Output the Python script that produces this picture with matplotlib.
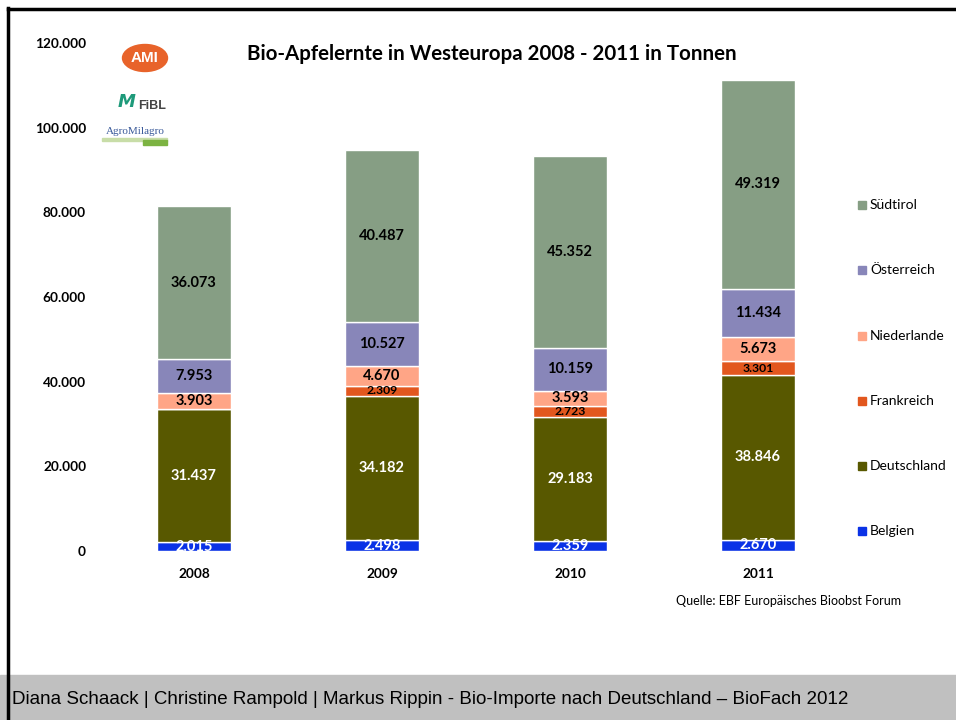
import matplotlib
matplotlib.use("Agg")
import matplotlib.pyplot as plt
import numpy as np
from matplotlib.patches import Rectangle, Ellipse

# data (tonnes)
years = ["2008", "2009", "2010", "2011"]
series = ["Belgien", "Deutschland", "Frankreich", "Niederlande", "Österreich", "Südtirol"]
belgien = [2015, 2498, 2359, 2670]
deutschland = [31437, 34182, 29183, 38846]
frankreich = [0, 2309, 2723, 3301]
niederlande = [3903, 4670, 3593, 5673]
oesterreich = [7953, 10527, 10159, 11434]
suedtirol = [36073, 40487, 45352, 49319]
values = [belgien, deutschland, frankreich, niederlande, oesterreich, suedtirol]

colors = ["#0A32E6", "#585800", "#E2571E", "#FFA586", "#8886B9", "#869E84"]
label_colors = ["white", "white", "black", "black", "black", "black"]
label_sizes = [10.5, 10.5, 8.8, 10.5, 10.5, 10.5]

yticks = [0, 20000, 40000, 60000, 80000, 100000, 120000]


def fmt(v):
    return "{:,}".format(v).replace(",", ".")


fig = plt.figure(figsize=(9.56, 7.2), dpi=100)
ax = fig.add_axes([100 / 956, 1 - 551 / 720, 752 / 956, 508 / 720])

x = np.arange(len(years))
bottom = np.zeros(len(years))
for vals, c, lc, ls in zip(values, colors, label_colors, label_sizes):
    vals = np.array(vals)
    ax.bar(x, vals, width=0.39, bottom=bottom, color=c, edgecolor="white", linewidth=1)
    for xi, b, v in zip(x, bottom, vals):
        if v > 0:
            ax.text(xi, b + v / 2, fmt(v), ha="center", va="center", color=lc,
                    fontsize=ls, fontweight="bold", family="Lato", clip_on=True)
    bottom += vals

ax.set_xlim(-0.5, 3.5)
ax.set_ylim(0, 120000)
ax.set_yticks(yticks)
ax.set_yticklabels([fmt(t) for t in yticks], fontsize=9.8, fontweight="bold", family="Lato")
ax.set_xticks(x)
ax.set_xticklabels(years, fontsize=9.8, fontweight="bold", family="Lato")
ax.tick_params(axis="both", length=0)
ax.tick_params(axis="y", pad=10)
ax.tick_params(axis="x", pad=12)
for s in ax.spines.values():
    s.set_visible(False)

# title
fig.text(492 / 956, 1 - 54 / 720, "Bio-Apfelernte in Westeuropa 2008 - 2011 in Tonnen",
         ha="center", va="center", fontsize=14.8, fontweight="bold", family="Lato")

# legend, drawn by hand to keep the wide spacing
leg_y = [531, 466, 401, 336, 270, 205]
for name, c, yy in zip(series, colors, leg_y):
    fig.patches.append(Rectangle((858 / 956, 1 - (yy + 4) / 720), 8 / 956, 8 / 720,
                                 transform=fig.transFigure, color=c))
    fig.text(870 / 956, 1 - yy / 720, name, ha="left", va="center", fontsize=10, family="Lato")

# source
fig.text(676 / 956, 1 - 601 / 720, "Quelle: EBF Europäisches Bioobst Forum",
         ha="left", va="center", fontsize=9, family="Lato")

# logos (rough)
fig.patches.append(Ellipse((145 / 956, 1 - 58 / 720), 45 / 956, 27 / 720,
                           transform=fig.transFigure, color="#E8632A"))
fig.text(145 / 956, 1 - 58 / 720, "AMI", ha="center", va="center", color="white",
         fontsize=11, fontweight="bold", family="Liberation Sans")
fig.text(138 / 956, 1 - 106 / 720, "FiBL", ha="left", va="center", color="#444444",
         fontsize=9, fontweight="bold", family="Liberation Sans")
fig.text(127 / 956, 1 - 102 / 720, "M", ha="center", va="center", color="#1E9A7A",
         fontsize=13, fontweight="bold", family="DejaVu Sans", style="italic")
fig.text(135 / 956, 1 - 131 / 720, "AgroMilagro", ha="center", va="center", color="#3A5A9A",
         fontsize=8, family="Liberation Serif")
fig.patches.append(Rectangle((102 / 956, 1 - 141 / 720), 65 / 956, 3 / 720,
                             transform=fig.transFigure, color="#C8DDA8"))
fig.patches.append(Rectangle((143 / 956, 1 - 145 / 720), 24 / 956, 5 / 720,
                             transform=fig.transFigure, color="#7CB342"))

# frame and footer band
fig.patches.append(Rectangle((0, 0), 956 / 956, 45 / 720, transform=fig.transFigure,
                             color="#C0C0C0", zorder=0))
fig.lines.append(plt.Line2D([8 / 956, 8 / 956], [0, 1 - 8 / 720], transform=fig.transFigure,
                            color="black", linewidth=2.5))
fig.lines.append(plt.Line2D([8 / 956, 1], [1 - 9 / 720, 1 - 9 / 720], transform=fig.transFigure,
                            color="black", linewidth=2.5))
fig.text(12 / 956, 1 - 700 / 720,
         "Diana Schaack | Christine Rampold | Markus Rippin - Bio-Importe nach Deutschland \u2013 BioFach 2012",
         ha="left", va="center", fontsize=13.5, family="Liberation Sans")

fig.savefig("out.png", dpi=100)
